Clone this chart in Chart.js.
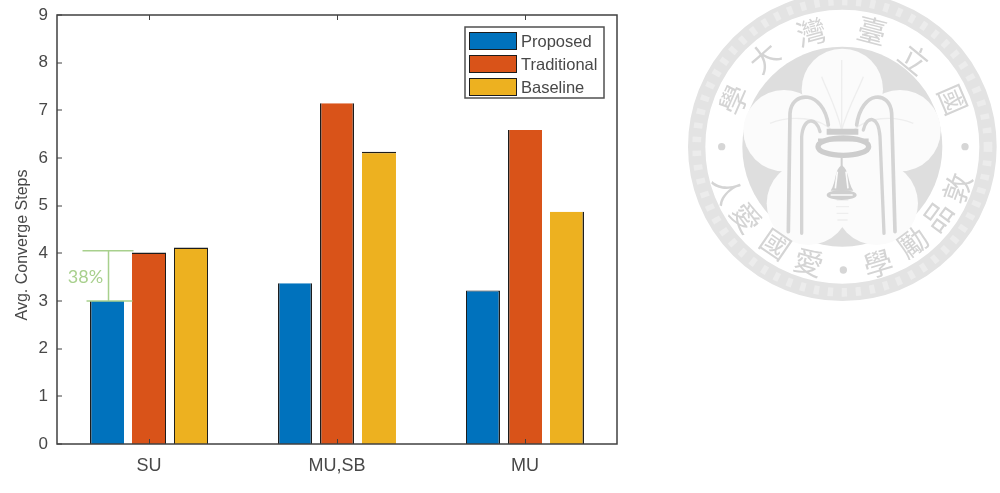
<!DOCTYPE html>
<html>
<head>
<meta charset="utf-8">
<title>Avg. Converge Steps</title>
<script src="https://cdn.jsdelivr.net/npm/chart.js@4"></script>
<style>
  body { margin: 0; background: #fff; }
  #wrap { position: relative; width: 1000px; height: 493px; overflow: hidden; }
  #myChart { position: absolute; left: 0; top: 0; }
  #seal { position: absolute; left: 680px; top: 0; }
</style>
</head>
<body>
<div id="wrap">
  <canvas id="myChart" width="1000" height="493"></canvas>
  <svg id="seal" width="320" height="310" viewBox="0 0 960 930" xmlns="http://www.w3.org/2000/svg">
    <circle cx="487" cy="440" r="437" fill="none" stroke="#e3e3e3" stroke-width="52"/>
    <circle cx="487" cy="440" r="437" fill="none" stroke="#ececec" stroke-width="26" stroke-dasharray="16 26"/>
    <circle cx="487" cy="440" r="300" fill="#dedede"/>
    <g fill="#fbfbfb">
      <circle cx="487" cy="268" r="122"/>
      <circle cx="312" cy="392" r="122"/>
      <circle cx="660" cy="392" r="122"/>
      <circle cx="385" cy="610" r="125"/>
      <circle cx="589" cy="610" r="125"/>
      <circle cx="487" cy="440" r="170"/>
    </g>
    <g fill="none" stroke="#eeeeee" stroke-width="4">
      <path d="M485 180V390M485 390C468 320 440 270 425 230M485 390C505 320 535 270 550 230"/>
      <path d="M460 395C420 350 330 345 270 370M515 395C560 350 640 345 700 370"/>
      <path d="M470 600H505M468 620H507M470 640H505M472 660H503"/>
    </g>
    <g fill="none" stroke="#d4d4d4" stroke-linecap="round">
      <path stroke-width="11" d="M325 695L330 340C335 270 430 270 445 375"/>
      <path stroke-width="10" d="M365 700V410C370 350 410 350 420 395"/>
      <path stroke-width="11" d="M645 695L635 340C630 270 545 270 530 375"/>
      <path stroke-width="10" d="M612 700L600 410C595 345 560 345 550 390"/>
    </g>
    <g fill="none" stroke="#cdcdcd">
      <ellipse cx="490" cy="440" rx="76" ry="26" stroke-width="16"/>
      <path stroke-width="18" d="M440 395H535"/>
      <path stroke-width="9" d="M414 420H566"/>
    </g>
    <g fill="#cfcfcf">
      <path d="M485 495C462 510 470 545 452 572H520C502 545 508 510 485 495Z"/>
      <ellipse cx="485" cy="585" rx="45" ry="15"/>
      <rect x="482" y="470" width="6" height="28"/>
    </g>
    <g fill="none" stroke="#fbfbfb" stroke-width="5">
      <path d="M472 515L466 565M498 515L504 565M452 585H518"/>
    </g>
    <g fill="#d6d6d6">
      <circle cx="125" cy="440" r="11"/>
      <circle cx="855" cy="440" r="11"/>
      <circle cx="490" cy="810" r="11"/>
    </g>
    <g id="sealText" fill="#d4d4d4" font-family="'Noto Sans CJK TC'" font-size="88" text-anchor="middle"></g>
  </svg>
</div>
<script>
"use strict";
const categories = ["SU", "MU,SB", "MU"];
const proposedSteps = [3.0, 3.37, 3.22];
const traditionalSteps = [4.02, 7.15, 6.59];
const baselineSteps = [4.12, 6.13, 4.87];
const yTicks = [0, 1, 2, 3, 4, 5, 6, 7, 8, 9];

// gap marker over the first group
const gapLabel = "38%";
const gapValues = [3.0, 4.055];

const seriesNames = ["Proposed", "Traditional", "Baseline"];
const seriesColors = ["#0072bd", "#d95319", "#edb120"];

const axisColor = "#404040";
const textColor = "#484848";
const edgeColor = "#1c1c1c";
const gapColor = "#a8d08d";
const titleText = "Avg. Converge Steps";

// which sides of each bar carry a dark edge, per series and category
const barEdges = [
  [{ left: 1.5 }, { left: 1.5, right: 1.5 }, { left: 1, right: 1.5, top: 1 }],
  [{ top: 1.5, right: 1 }, { left: 1.5, right: 1.5 }, { left: 1.5 }],
  [{ left: 1, right: 1, top: 1.5 }, { top: 1.5 }, { right: 1.5 }],
];

// seal lettering, placed around the ring
const sealGlyphs = [
  ["學", 165, 300], ["大", 255, 175], ["灣", 395, 100], ["臺", 575, 95],
  ["立", 700, 180], ["國", 815, 300], ["敦", 835, 565], ["品", 775, 650],
  ["勵", 700, 730], ["學", 595, 795], ["愛", 385, 790], ["國", 285, 735],
  ["愛", 195, 655], ["人", 140, 570],
];
const sealText = document.getElementById("sealText");
sealGlyphs.forEach(function ([glyph, x, y]) {
  const dx = x - 487;
  const dy = y - 440;
  const turn = dy < 0 ? Math.atan2(dx, -dy) : Math.atan2(-dx, dy);
  const el = document.createElementNS("http://www.w3.org/2000/svg", "text");
  el.textContent = glyph;
  el.setAttribute("x", x);
  el.setAttribute("y", y + 30);
  el.setAttribute("transform", `rotate(${(turn * 180) / Math.PI} ${x} ${y})`);
  sealText.appendChild(el);
});

// frame sits 2px inside the scale range, ticks point inward
const boxInset = 2;
const axisBox = {
  id: "axisBox",
  afterDatasetsDraw(chart) {
    const { ctx, chartArea: area, scales } = chart;
    const left = area.left + boxInset;
    const right = area.right - boxInset;
    ctx.save();
    ctx.strokeStyle = axisColor;
    ctx.lineWidth = 1;
    ctx.beginPath();
    yTicks.forEach(function (tick) {
      const y = Math.round(scales.y.getPixelForValue(tick));
      ctx.moveTo(left, y);
      ctx.lineTo(left + 5, y);
    });
    categories.forEach(function (name, i) {
      const x = Math.round(scales.x.getPixelForTick(i)) + 0.5;
      ctx.moveTo(x, area.bottom);
      ctx.lineTo(x, area.bottom - 5);
      ctx.moveTo(x, area.top);
      ctx.lineTo(x, area.top + 5);
    });
    ctx.stroke();
    ctx.lineWidth = 1.5;
    ctx.strokeRect(left, area.top, right - left, area.bottom - area.top);

    // axis title, set a little below the middle of the axis
    ctx.translate(23, 245);
    ctx.rotate(-Math.PI / 2);
    ctx.fillStyle = textColor;
    ctx.font = "16px 'Liberation Sans'";
    ctx.textAlign = "center";
    ctx.textBaseline = "middle";
    ctx.fillText(titleText, 0, 0);
    ctx.restore();
  },
};

const gapMarker = {
  id: "gapMarker",
  afterDatasetsDraw(chart) {
    const { ctx, scales } = chart;
    const bar = chart.getDatasetMeta(0).data[0];
    const low = scales.y.getPixelForValue(gapValues[0]);
    const high = scales.y.getPixelForValue(gapValues[1]);
    const mid = bar.x + 1.5;
    ctx.save();
    ctx.strokeStyle = gapColor;
    ctx.lineWidth = 1.5;
    ctx.beginPath();
    ctx.moveTo(mid - 26, high);
    ctx.lineTo(mid + 25, high);
    ctx.moveTo(mid - 22, low);
    ctx.lineTo(mid + 24, low);
    ctx.moveTo(mid, high);
    ctx.lineTo(mid, low);
    ctx.stroke();
    ctx.fillStyle = gapColor;
    ctx.font = "18px Lato";
    ctx.textAlign = "center";
    ctx.textBaseline = "middle";
    ctx.fillText(gapLabel, mid - 23, (low + high) / 2 + 1);
    ctx.restore();
  },
};

// legend boxed inside the plot, top right
const insideLegend = {
  id: "insideLegend",
  afterDraw(chart) {
    const { ctx } = chart;
    const rowTops = [32, 55, 78];
    ctx.save();
    ctx.fillStyle = "#fff";
    ctx.fillRect(465, 27, 139, 71);
    ctx.strokeStyle = "#505050";
    ctx.lineWidth = 1.5;
    ctx.strokeRect(465, 27, 139, 71);
    ctx.lineWidth = 1;
    ctx.font = "16.5px 'Liberation Sans'";
    ctx.textBaseline = "middle";
    chart.data.datasets.forEach(function (set, i) {
      ctx.fillStyle = set.backgroundColor;
      ctx.fillRect(469, rowTops[i], 47, 17);
      ctx.strokeStyle = edgeColor;
      ctx.strokeRect(469.5, rowTops[i] + 0.5, 47, 17);
      ctx.fillStyle = textColor;
      ctx.fillText(set.label, 521, rowTops[i] + 10);
    });
    ctx.restore();
  },
};

function makeSeries(label, values, color, edges) {
  return {
    label,
    data: values,
    backgroundColor: color,
    borderColor: edgeColor,
    borderWidth: (c) => edges[c.dataIndex],
    borderSkipped: false,
    categoryPercentage: 0.67,
    barPercentage: 0.81,
  };
}

const ctx = document.getElementById("myChart").getContext("2d");
const myChart = new Chart(ctx, {
  type: "bar",
  data: {
    labels: categories,
    datasets: [
      makeSeries(seriesNames[0], proposedSteps, seriesColors[0], barEdges[0]),
      makeSeries(seriesNames[1], traditionalSteps, seriesColors[1], barEdges[1]),
      makeSeries(seriesNames[2], baselineSteps, seriesColors[2], barEdges[2]),
    ],
  },
  plugins: [axisBox, gapMarker, insideLegend],
  options: {
    responsive: false,
    animation: false,
    layout: { padding: { left: 0, right: 381, top: 15, bottom: 0 } },
    plugins: {
      legend: { display: false },
      tooltip: { enabled: false },
    },
    scales: {
      x: {
        grid: { display: false, drawTicks: false },
        border: { display: false },
        ticks: {
          color: textColor,
          padding: 11,
          font: { family: "'Liberation Sans'", size: 18 },
        },
        afterFit(scale) {
          scale.height = 49;
          scale.paddingLeft = 0;
          scale.paddingRight = 0;
        },
      },
      y: {
        min: 0,
        max: 9,
        grid: { display: false, drawTicks: false },
        border: { display: false },
        ticks: {
          stepSize: 1,
          color: textColor,
          padding: 7,
          font: { family: "'Liberation Sans'", size: 17 },
        },
        afterFit(scale) {
          scale.width = 55;
          scale.paddingTop = 0;
          scale.paddingBottom = 0;
        },
      },
    },
  },
});
</script>
</body>
</html>
